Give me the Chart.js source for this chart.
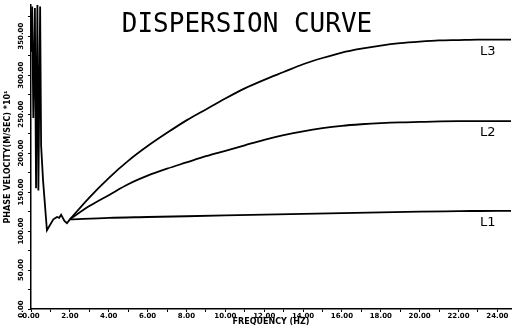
<!DOCTYPE html>
<html><head><meta charset="utf-8">
<script src="https://cdn.jsdelivr.net/npm/chart.js@4/dist/chart.umd.min.js"></script>
<style>html,body{margin:0;padding:0;background:#fff}#wrap{width:524px;height:328px;position:relative}</style>
</head><body><div id="wrap"><canvas id="c" width="524" height="328"></canvas></div>
<script>
const TITLE = 'DISPERSION CURVE';
const X_TITLE = 'FREQUENCY (HZ)';
const Y_TITLE = 'PHASE VELOCITY(M/SEC) *10¹';
const seriesNames = ['L1', 'L2', 'L3'];

// low-frequency oscillating part (shared start)
const lowFreq = [0.00, 0.06, 0.12, 0.20, 0.26, 0.33, 0.38, 0.47, 0.52, 0.62, 0.82, 1.15, 1.34, 1.45, 1.55, 1.72, 1.85, 2.00];
const lowVel  = [330, 388, 245, 386, 155, 390, 152, 388, 210, 165, 101, 115, 118, 117, 121, 113, 110, 115];

const l1Freq = [2, 4, 6, 8, 10, 12, 14, 16, 18, 20, 22, 24, 24.7];
const l1Vel  = [115, 117, 118, 119, 120, 121, 122, 123, 124, 125, 125.5, 126, 126];

const l2Freq = [2, 3, 4, 5, 6, 7, 8, 9, 10, 11, 12, 13, 14, 15, 16, 17, 18, 19, 20, 22, 24, 24.7];
const l2Vel  = [115, 132, 146, 160, 171, 180, 188, 196, 203, 210, 217, 223, 228, 232, 235, 237, 238.5, 239.5, 240, 241, 241, 241];

const l3Freq = [2, 3, 4, 5, 6, 7, 8, 9, 10, 11, 12, 13, 14, 15, 16, 17, 18, 19, 20, 21, 22, 23, 24, 24.7];
const l3Vel  = [115, 143, 168, 190, 209, 226, 242, 256, 270, 283, 294, 304, 314, 322, 329, 334, 338, 341, 343, 344.5, 345, 345.5, 345.5, 345.5];

const xTickStep = 1, xLabelEvery = 2;
const yTickStep = 25, yLabelEvery = 50;

const pts = (xs, ys) => xs.map((x, i) => ({x, y: ys[i]}));

const annot = {
  id: 'annot',
  afterDraw(chart) {
    const ctx = chart.ctx, xs = chart.scales.x, ys = chart.scales.y;
    ctx.save();
    ctx.fillStyle = '#000';
    // y tick labels, rotated
    ctx.font = 'bold 7px "DejaVu Sans"';
    ctx.textAlign = 'center'; ctx.textBaseline = 'middle';
    ys.ticks.forEach(t => {
      if (t.value % yLabelEvery !== 0) return;
      const py = ys.getPixelForValue(t.value);
      ctx.save(); ctx.translate(ys.right - 10, py); ctx.rotate(-Math.PI / 2);
      ctx.fillText(t.value.toFixed(2), 0, 0); ctx.restore();
    });
    // curve labels
    ctx.font = '13px "DejaVu Sans"';
    ctx.textAlign = 'center'; ctx.textBaseline = 'top';
    chart.data.datasets.forEach(ds => {
      if (!seriesNames.includes(ds.label)) return;
      const last = ds.data[ds.data.length - 1];
      ctx.fillText(ds.label, xs.getPixelForValue(23.5), ys.getPixelForValue(last.y) + 5);
    });
    // title
    ctx.font = '26px "DejaVu Sans Mono"';
    ctx.textAlign = 'center'; ctx.textBaseline = 'middle';
    ctx.fillText(TITLE, 247, 25);
    ctx.restore();
  }
};

const lineStyle = {borderColor: '#000', borderWidth: 1.8, pointRadius: 0, fill: false};

new Chart(document.getElementById('c'), {
  type: 'line',
  data: {
    datasets: [
      Object.assign({label: 'low', data: pts(lowFreq, lowVel), tension: 0}, lineStyle),
      Object.assign({label: 'L1', data: pts(l1Freq, l1Vel), cubicInterpolationMode: 'monotone'}, lineStyle),
      Object.assign({label: 'L2', data: pts(l2Freq, l2Vel), cubicInterpolationMode: 'monotone'}, lineStyle),
      Object.assign({label: 'L3', data: pts(l3Freq, l3Vel), cubicInterpolationMode: 'monotone'}, lineStyle)
    ]
  },
  options: {
    responsive: false, animation: false, devicePixelRatio: 1,
    layout: {padding: {top: 5, right: 13, left: 0, bottom: 0}},
    plugins: {legend: {display: false}, tooltip: {enabled: false}},
    scales: {
      x: {
        type: 'linear', min: 0, max: 24.7,
        afterFit: s => { s.height = 19; },
        border: {display: true, color: '#000', width: 1.5},
        grid: {drawOnChartArea: false, drawTicks: true, tickLength: 3, color: '#000'},
        ticks: {stepSize: xTickStep, includeBounds: false, autoSkip: false, maxRotation: 0, padding: 0,
          color: '#000', font: {family: 'DejaVu Sans', size: 7, weight: 'bold'},
          callback: v => (v % xLabelEvery === 0 ? v.toFixed(2) : '')},
        title: {display: true, text: X_TITLE, color: '#000', font: {family: 'DejaVu Sans', size: 8, weight: 'bold'}, padding: {top: 0, bottom: 1}}
      },
      y: {
        type: 'linear', min: 0, max: 390,
        afterFit: s => { s.width = 31; },
        border: {display: true, color: '#000', width: 1.5},
        grid: {drawOnChartArea: false, drawTicks: true, tickLength: 3, color: '#000'},
        ticks: {stepSize: yTickStep, includeBounds: false, display: false},
        title: {display: true, text: Y_TITLE, color: '#000', font: {family: 'DejaVu Sans', size: 8, weight: 'bold'}, padding: {top: 3, bottom: 0}}
      }
    }
  },
  plugins: [annot]
});
</script>
</body></html>
